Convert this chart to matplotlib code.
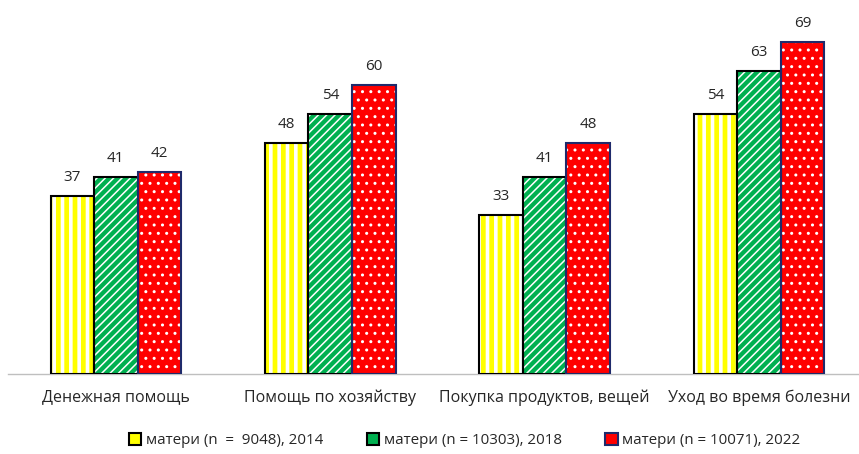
import numpy as np
import matplotlib
matplotlib.use('Agg')
from matplotlib import pyplot as plt
from matplotlib.patches import Patch

plt.rcParams['font.family'] = ['Open Sans', 'DejaVu Sans']

categories = ['Денежная помощь', 'Помощь по хозяйству', 'Покупка продуктов, вещей', 'Уход во время болезни']
series_labels = ['матери (n  =  9048), 2014', 'матери (n = 10303), 2018', 'матери (n = 10071), 2022']
values_2014 = [37, 48, 33, 54]
values_2018 = [41, 54, 41, 63]
values_2022 = [42, 60, 48, 69]

faces = ['#ffff00', '#00b050', '#ff0000']
edges = ['black', 'black', '#1f2a6b']
hatches = ['||', '////', '..']
hatch_widths = [2.6, 1.1, 1.0]


def hatch_lw(artist, lw):
    # hatch linewidth is an rcParam, so set it while this artist draws
    orig = artist.draw

    def draw(renderer):
        with plt.rc_context({'hatch.linewidth': lw}):
            orig(renderer)
    artist.draw = draw
    if hasattr(artist, 'set_hatch_linewidth'):
        artist.set_hatch_linewidth(lw)


fig = plt.figure(figsize=(8.59, 4.54), dpi=100)
ax = fig.add_axes([8 / 859, 80 / 454, 851 / 859, 374 / 454])

x = np.arange(len(categories))
width = 0.203
series = [values_2014, values_2018, values_2022]

handles = []
for i, vals in enumerate(series):
    pos = x + (i - 1) * width
    # fill with white hatch on top
    bars = ax.bar(pos, vals, width, color=faces[i], edgecolor='white', hatch=hatches[i], linewidth=0, zorder=2)
    for b in bars:
        hatch_lw(b, hatch_widths[i])
    # outline
    ax.bar(pos, vals, width, fill=False, edgecolor=edges[i], linewidth=1.5, zorder=3)
    for p, v in zip(pos, vals):
        ax.text(p, v + 2.3, str(v), ha='center', va='bottom', fontsize=11, color='#262626')
    handles.append(Patch(facecolor=faces[i], edgecolor=edges[i], linewidth=1.5, label=series_labels[i]))

ax.set_xlim(-0.503, 3.466)
ax.set_ylim(0, 77.75)
ax.set_xticks(x)
ax.set_xticklabels(categories, fontsize=11.5, color='#262626')
ax.tick_params(axis='x', length=0, pad=11)
ax.set_yticks([])
for s in ['top', 'right', 'left']:
    ax.spines[s].set_visible(False)
ax.spines['bottom'].set_color('#bfbfbf')
ax.spines['bottom'].set_linewidth(1)

fig.legend(handles=handles, loc='center', bbox_to_anchor=(0.541, 0.029), ncol=3, frameon=False,
           fontsize=10.9, handlelength=0.8, handleheight=0.8, handletextpad=0.3, columnspacing=2.9,
           labelcolor='#262626')

fig.savefig('out.png', dpi=100)
